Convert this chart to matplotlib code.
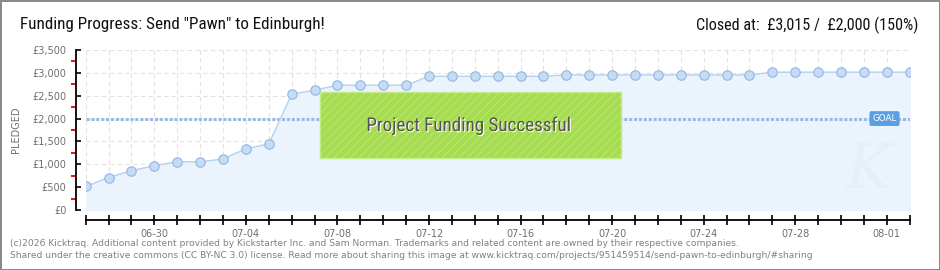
import numpy as np
import pandas as pd
import matplotlib
matplotlib.use("Agg")
import matplotlib.pyplot as plt
from matplotlib.patches import Rectangle
import matplotlib.patheffects as pe
from matplotlib import font_manager

# daily pledged totals, 06-27 .. 08-02
days = pd.date_range("2013-06-27", "2013-08-02", freq="D")
pledged = [515, 710, 860, 970, 1055, 1055, 1115, 1340, 1445,
           2535, 2620, 2730, 2730, 2730, 2730, 2925, 2925,
           2925, 2925, 2925, 2925,
           2955, 2955, 2955, 2955, 2955, 2955, 2955, 2955, 2955,
           3015, 3015, 3015, 3015, 3015, 3015, 3015]
goal = 2000
yticks = [0, 500, 1000, 1500, 2000, 2500, 3000, 3500]
ytick_labels = ["£0", "£500", "£1,000", "£1,500", "£2,000", "£2,500", "£3,000", "£3,500"]

names = {f.name for f in font_manager.fontManager.ttflist}
narrow = [n for n in ["Liberation Sans Narrow", "DejaVu Sans Condensed", "Roboto Condensed"]
          if n in names] + ["DejaVu Sans"]
grey = "#6e6e6e"

x = np.arange(len(pledged))

fig = plt.figure(figsize=(9.4, 2.7), dpi=100)
fig.patch.set_facecolor("white")
fig.patch.set_edgecolor("#8a8a8a")
fig.patch.set_linewidth(2)

ax = fig.add_axes([85.7/940, 60/270, 824/940, 160/270])
ax.set_xlim(0, len(pledged) - 1)
ax.set_ylim(0, 3500)
ax.set_facecolor("none")

# grid
ax.set_xticks(x)
ax.set_yticks(yticks)
ax.grid(True, color="#e2e2e2", linestyle=(0, (4, 3)), linewidth=0.8)
ax.set_axisbelow(True)

# fill + line
ax.fill_between(x, pledged, 0, color="#ebf3fc", zorder=1)
ax.plot(x, pledged, color="#b3d1f2", linewidth=1, zorder=3)
ax.plot(x, pledged, linestyle="none", marker="o", markersize=6.8,
        markerfacecolor="#c5dcf6", markeredgecolor="#93b6de",
        markeredgewidth=0.8, zorder=4)

# goal line
ax.axhline(goal, color="#97bbe3", linewidth=2.2,
           linestyle=(0, (1, 0.6)), zorder=2)
ax.text(34.9, goal, "GOAL", color="white", fontsize=6.3, family="DejaVu Sans",
        ha="center", va="center", zorder=6,
        bbox=dict(boxstyle="round,pad=0.25,rounding_size=0.15",
                  facecolor="#5b9fe2", edgecolor="#5b9fe2"))

# success banner
plt.rcParams["hatch.color"] = "#9dd446"
plt.rcParams["hatch.linewidth"] = 0.5
box = Rectangle((320, 270 - 158), 301, 66, transform=None,
                facecolor="#a6dc50", edgecolor="#c4ea86", linewidth=1,
                hatch="////", zorder=5)
fig.patches.append(box)
fig.text(468.5/940, 1 - 126/270, "Project Funding Successful", ha="center",
         va="center", fontsize=13.7, family=narrow, fontstretch="condensed",
         color="#555555", zorder=6,
         path_effects=[pe.withSimplePatchShadow(offset=(0.8, -0.8),
                                                shadow_rgbFace="white", alpha=1)])

# spines
for s in ["top", "right"]:
    ax.spines[s].set_visible(False)
ax.spines["left"].set_position(("outward", 7))
ax.spines["bottom"].set_position(("outward", 7.2))
ax.spines["left"].set_linewidth(1.3)
ax.spines["bottom"].set_linewidth(1.3)

ax.set_yticks(np.arange(250, 3500, 500), minor=True)
ax.tick_params(axis="y", which="major", direction="in", length=3.5, width=1.2,
               labelsize=7, labelcolor=grey, pad=7)
ax.tick_params(axis="y", which="minor", direction="out", length=3.5,
               width=1.3, color="#e00000")
ax.set_yticklabels(ytick_labels)

ax.tick_params(axis="x", direction="inout", length=7, width=1.2,
               labelsize=7, labelcolor=grey, pad=3)
ax.set_xticklabels([d.strftime("%m-%d") if (i - 3) % 4 == 0 else ""
                    for i, d in enumerate(days)])

ax.set_ylabel("PLEDGED", fontsize=7, color=grey, labelpad=8)

# watermark
ax.text(34.2, 850, "K", fontsize=44, style="italic", family="DejaVu Serif",
        color="#e6eef8", ha="center", va="center", zorder=1.5)

# headers
fig.text(20/940, 1 - 25/270, 'Funding Progress: Send "Pawn" to Edinburgh!',
         fontsize=12.3, family=narrow, fontstretch="condensed",
         color="#111111", va="center", ha="left")
fig.text(918/940, 1 - 25/270, "Closed at:  £3,015 /  £2,000 (150%)",
         fontsize=11.6, family=narrow, fontstretch="condensed",
         color="#111111", va="center", ha="right")

# footer
fig.text(10/940, 1 - 243/270,
         "(c)2026 Kicktraq. Additional content provided by Kickstarter Inc. and Sam Norman. "
         "Trademarks and related content are owned by their respective companies.",
         fontsize=6.6, color="#808080", va="center", ha="left")
fig.text(10/940, 1 - 256/270,
         "Shared under the creative commons (CC BY-NC 3.0) license. Read more about sharing "
         "this image at www.kicktraq.com/projects/951459514/send-pawn-to-edinburgh/#sharing",
         fontsize=6.6, color="#808080", va="center", ha="left")

fig.savefig("out.png", dpi=100)
